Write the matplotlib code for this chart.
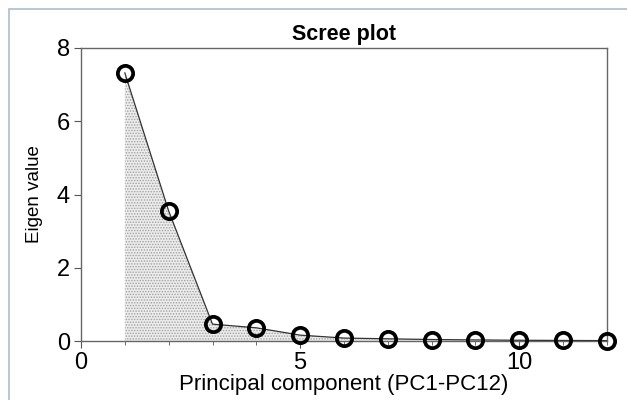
import matplotlib
matplotlib.use("Agg")
import matplotlib.pyplot as plt
from matplotlib.patches import Rectangle
from matplotlib.ticker import MultipleLocator

plt.rcParams['font.family'] = ['Liberation Sans', 'DejaVu Sans']
plt.rcParams['hatch.linewidth'] = 0.7

components = [1, 2, 3, 4, 5, 6, 7, 8, 9, 10, 11, 12]
eigenvalues = [7.32, 3.55, 0.46, 0.36, 0.16, 0.08, 0.06, 0.04, 0.03, 0.02, 0.015, 0.01]
title = "Scree plot"
xlabel = "Principal component (PC1-PC12)"
ylabel = "Eigen value"

fig = plt.figure(figsize=(6.27, 4.00), dpi=100)
fig.patches.append(Rectangle((9/627, -0.1), 1.2, (391/400) + 0.1,
                             transform=fig.transFigure, fill=False,
                             edgecolor='#a9bfd0', linewidth=1.2))
ax = fig.add_axes([81/627, 1-341/400, (607-81)/627, (341-48)/400])

ax.fill_between(components, eigenvalues, 0, facecolor='#ececec',
                hatch='......', edgecolor='#a0a0a0', linewidth=0)
ax.plot(components, eigenvalues, color='#333333', linewidth=0.9, zorder=3)
ax.plot(components, eigenvalues, linestyle='none', marker='o', markersize=11,
        markerfacecolor='none', markeredgecolor='black', markeredgewidth=2.7,
        zorder=4, clip_on=False)

ax.set_xlim(0, 12)
ax.set_ylim(0, 8)
ax.xaxis.set_major_locator(MultipleLocator(5))
ax.xaxis.set_minor_locator(MultipleLocator(1))
ax.yaxis.set_major_locator(MultipleLocator(2))
ax.tick_params(axis='both', which='major', labelsize=17, length=5,
               direction='out', color='#555555', pad=3)
ax.tick_params(axis='x', which='minor', length=3, color='#555555')
for s in ax.spines.values():
    s.set_color('#666666')
    s.set_linewidth(1.0)

ax.set_title(title, fontsize=15.5, fontweight='bold', pad=6)
ax.set_xlabel(xlabel, fontsize=16, labelpad=0)
ax.set_ylabel(ylabel, fontsize=13.5, labelpad=10)

fig.savefig("out.png", dpi=100)
